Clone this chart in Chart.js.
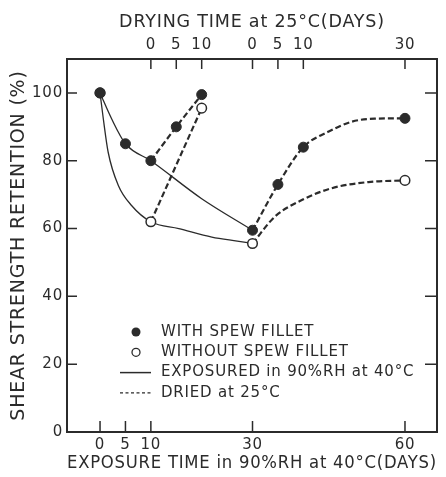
<!DOCTYPE html>
<html>
<head>
<meta charset="utf-8">
<script src="https://cdn.jsdelivr.net/npm/chart.js@4.4.0/dist/chart.umd.min.js"></script>
<style>
  html, body { margin: 0; padding: 0; background: #fff; }
</style>
</head>
<body>
<canvas id="retentionChart" width="446" height="477"></canvas>
<script>
// tick values
const xTicks = [0, 5, 10, 30, 60];
const topTickPos = [10, 15, 20, 30, 35, 40, 60];
const topTickLabels = ['0', '5', '10', '0', '5', '10', '30'];
const yTicks = [0, 20, 40, 60, 80, 100];

// measured points
const withDays = [0, 5, 10, 15, 20, 30, 35, 40, 60];
const withRet = [100, 85, 80, 90, 99.5, 59.5, 73, 84, 92.5];
const withoutDays = [0, 10, 20, 30, 60];
const withoutRet = [100, 62, 95.5, 55.6, 74.2];

// curves
const expWithDays = [0, 2.3, 5, 10, 20, 30];
const expWithRet = [100, 92.3, 85, 80, 68.8, 59.5];
const expWithoutDays = [0, 0.65, 1.6, 3.6, 6.2, 10, 15.5, 22, 27, 30];
const expWithoutRet = [100, 92.3, 82.5, 72.7, 66.8, 62, 60, 57.5, 56.3, 55.6];
const dry1WithDays = [10, 15, 20];
const dry1WithRet = [80, 90, 99.5];
const dry1WithoutDays = [10, 20];
const dry1WithoutRet = [62, 95.5];
const dry2WithDays = [30, 35, 40, 45, 49.5, 54, 60];
const dry2WithRet = [59.5, 73, 84, 88.6, 91.5, 92.4, 92.5];
const dry2WithoutDays = [30, 34.4, 39.7, 45.6, 52.8, 60];
const dry2WithoutRet = [55.6, 63.5, 68.4, 71.9, 73.7, 74.2];

const legendLabels = ['WITH SPEW FILLET', 'WITHOUT SPEW FILLET', 'EXPOSURED in 90%RH at 40°C', 'DRIED at 25°C'];

const ink = '#2b2b2b';
const fam = '"DejaVu Sans", sans-serif';

function pts(xs, ys) {
  return xs.map((x, i) => ({ x: x, y: ys[i] }));
}

function curve(xs, ys, dashed) {
  return {
    data: pts(xs, ys),
    showLine: true,
    pointRadius: 0,
    borderColor: ink,
    borderWidth: dashed ? 2.2 : 1.3,
    borderDash: dashed ? [6, 3] : [],
    cubicInterpolationMode: 'monotone',
    order: 5
  };
}

// the lettering in the figure is widely spaced
const spacing = {
  id: 'spacing',
  beforeDraw(chart) {
    chart.ctx.letterSpacing = '0.8px';
  }
};

// frame, inward ticks and the in-plot legend
const paperDecor = {
  id: 'paperDecor',
  afterDraw(chart) {
    const { ctx, chartArea: a, scales } = chart;
    ctx.save();
    ctx.strokeStyle = ink;
    ctx.lineWidth = 2;
    ctx.strokeRect(a.left, a.top, a.right - a.left, a.bottom - a.top);

    ctx.lineWidth = 1.5;
    ctx.beginPath();
    xTicks.forEach(v => {
      const px = scales.x.getPixelForValue(v);
      ctx.moveTo(px, a.bottom);
      ctx.lineTo(px, a.bottom - 11);
    });
    topTickPos.forEach(v => {
      const px = scales.x2.getPixelForValue(v);
      ctx.moveTo(px, a.top);
      ctx.lineTo(px, a.top + 10);
    });
    yTicks.forEach(v => {
      if (v === 0) return;
      const py = scales.y.getPixelForValue(v);
      ctx.moveTo(a.left, py);
      ctx.lineTo(a.left + 10, py);
      ctx.moveTo(a.right, py);
      ctx.lineTo(a.right - 12, py);
    });
    ctx.stroke();

    // legend
    const symX = 136, textX = 161, rowY = 332, rowH = 20.3;
    ctx.letterSpacing = '0.8px';
    ctx.font = '15px ' + fam;
    ctx.fillStyle = ink;
    ctx.textBaseline = 'middle';
    legendLabels.forEach((t, i) => ctx.fillText(t, textX, rowY + i * rowH));

    ctx.beginPath();
    ctx.arc(symX, rowY, 4.5, 0, Math.PI * 2);
    ctx.fill();
    ctx.beginPath();
    ctx.arc(symX, rowY + rowH, 4, 0, Math.PI * 2);
    ctx.lineWidth = 1.3;
    ctx.stroke();

    ctx.lineWidth = 1.5;
    ctx.beginPath();
    ctx.moveTo(120, rowY + 2 * rowH);
    ctx.lineTo(151, rowY + 2 * rowH);
    ctx.stroke();
    ctx.setLineDash([3, 2.5]);
    ctx.lineWidth = 1.2;
    ctx.beginPath();
    ctx.moveTo(120, rowY + 3 * rowH);
    ctx.lineTo(151, rowY + 3 * rowH);
    ctx.stroke();
    ctx.restore();
  }
};

const tickFont = { family: fam, size: 15 };
const titleFont = { family: fam, size: 17.5 };

new Chart(document.getElementById('retentionChart'), {
  type: 'scatter',
  data: {
    datasets: [
      { data: pts(withDays, withRet), pointRadius: 5, pointBackgroundColor: ink, pointBorderColor: ink, pointBorderWidth: 1, order: 0 },
      { data: pts(withoutDays, withoutRet), pointRadius: 4.8, pointBackgroundColor: '#fff', pointBorderColor: ink, pointBorderWidth: 1.5, order: 1 },
      curve(expWithDays, expWithRet, false),
      curve(expWithoutDays, expWithoutRet, false),
      curve(dry1WithDays, dry1WithRet, true),
      curve(dry1WithoutDays, dry1WithoutRet, true),
      curve(dry2WithDays, dry2WithRet, true),
      curve(dry2WithoutDays, dry2WithoutRet, true)
    ]
  },
  options: {
    responsive: false,
    animation: false,
    events: [],
    layout: { padding: { left: 0, right: 9, top: 0, bottom: 0 } },
    plugins: { legend: { display: false }, tooltip: { enabled: false } },
    scales: {
      x: {
        type: 'linear', position: 'bottom', min: -6.5, max: 66.3,
        afterBuildTicks: s => { s.ticks = xTicks.map(v => ({ value: v })); },
        afterFit: s => { s.height = 45; },
        grid: { display: false, drawTicks: false },
        border: { display: false },
        ticks: { font: tickFont, color: ink, padding: 4, maxRotation: 0, autoSkip: false },
        title: { display: true, text: 'EXPOSURE TIME in 90%RH at 40°C(DAYS)', font: titleFont, color: ink, padding: { top: 0, bottom: 3 } }
      },
      x2: {
        type: 'linear', position: 'top', min: -6.5, max: 66.3,
        afterBuildTicks: s => { s.ticks = topTickPos.map(v => ({ value: v })); },
        afterFit: s => { s.height = 59; },
        grid: { display: false, drawTicks: false },
        border: { display: false },
        ticks: { font: tickFont, color: ink, padding: 5, maxRotation: 0, autoSkip: false, callback: (v, i) => topTickLabels[i] },
        title: { display: true, text: 'DRYING TIME at 25°C(DAYS)', font: titleFont, color: ink, padding: { top: 12, bottom: 0 } }
      },
      y: {
        min: 0, max: 110,
        afterBuildTicks: s => { s.ticks = yTicks.map(v => ({ value: v })); },
        afterFit: s => { s.width = 67; },
        grid: { display: false, drawTicks: false },
        border: { display: false },
        ticks: { font: tickFont, color: ink, padding: 4 },
        title: { display: true, text: 'SHEAR STRENGTH RETENTION (%)', font: { family: fam, size: 19 }, color: ink, padding: { top: 8, bottom: 0 } }
      }
    }
  },
  plugins: [spacing, paperDecor]
});
</script>
</body>
</html>
